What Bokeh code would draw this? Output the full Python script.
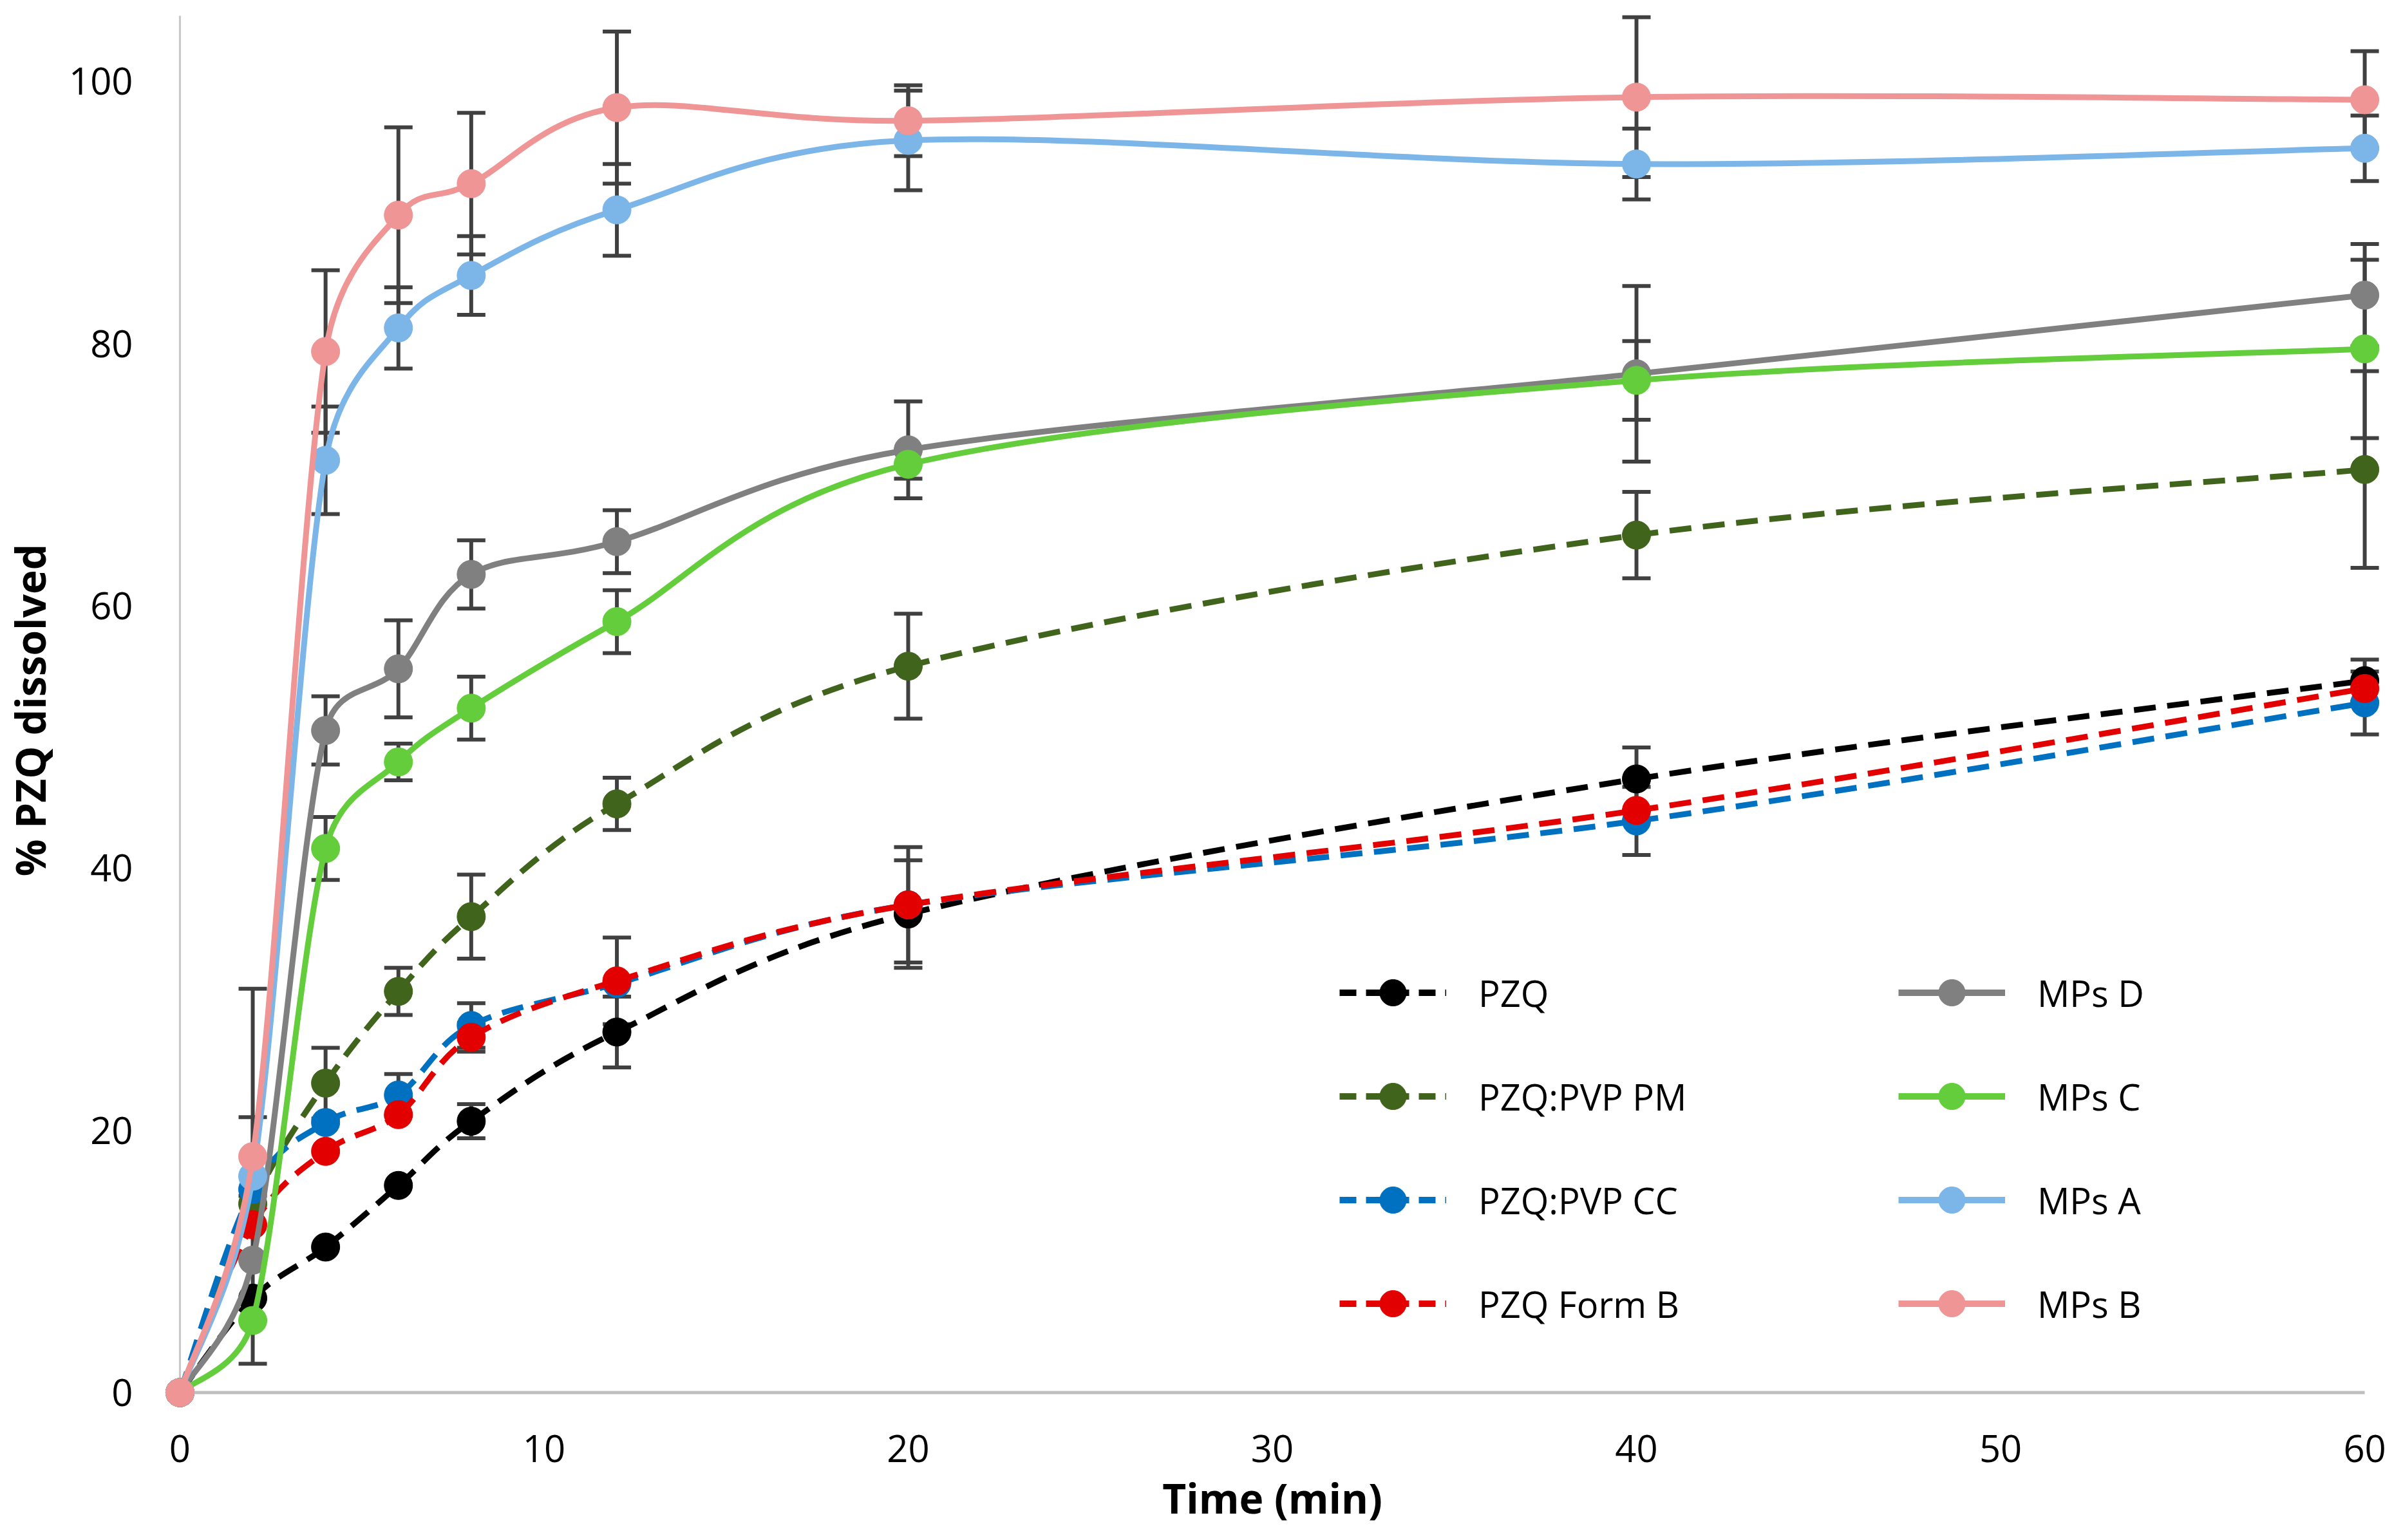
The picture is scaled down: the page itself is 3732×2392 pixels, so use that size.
import numpy as np
from bokeh.plotting import figure
from bokeh.models import ColumnDataSource, Whisker, TeeHead, Legend, LegendItem, FixedTicker
from bokeh.embed import file_html
from bokeh.resources import INLINE

# sampling times (min)
TIME = [0, 2, 4, 6, 8, 12, 20, 40, 60]

# % PZQ dissolved, with error bar half-widths (0 = no bar shown)
PZQ = [0, 7.2, 11.1, 15.8, 20.7, 27.5, 36.5, 46.8, 54.3]
PZQ_ERR = [0, 0, 0, 0, 1.3, 2.7, 4.1, 2.4, 1.6]

PVP_PM = [0, 14.4, 23.6, 30.6, 36.3, 44.9, 55.4, 65.4, 70.4]
PVP_PM_ERR = [0, 0, 2.7, 1.8, 3.2, 2.0, 4.0, 3.3, 7.5]

PVP_CC = [0, 15.5, 20.6, 22.7, 28.0, 31.2, 37.2, 43.6, 52.6]
PVP_CC_ERR = [0, 0, 0, 1.6, 1.7, 0, 4.4, 2.6, 2.4]

FORM_B = [0, 12.8, 18.4, 21.2, 27.1, 31.4, 37.2, 44.4, 53.7]
FORM_B_ERR = [0, 0, 0, 0, 1.1, 3.3, 0, 0, 0]

MPS_D = [0, 10.1, 50.5, 55.2, 62.4, 64.9, 71.9, 77.7, 83.7]
MPS_D_ERR = [0, 0, 2.6, 3.7, 2.6, 2.4, 3.7, 6.7, 3.9]

MPS_C = [0, 5.5, 41.5, 48.1, 52.2, 58.8, 70.8, 77.2, 79.6]
MPS_C_ERR = [0, 0, 2.4, 1.4, 2.4, 2.4, 1.1, 3.0, 6.8]

MPS_A = [0, 16.5, 71.1, 81.2, 85.2, 90.2, 95.5, 93.7, 94.9]
MPS_A_ERR = [0, 14.3, 4.1, 3.1, 3.0, 3.5, 3.8, 2.7, 2.5]

MPS_B = [0, 18.0, 79.4, 89.8, 92.2, 98.0, 97.0, 98.8, 98.6]
MPS_B_ERR = [0, 3.0, 6.2, 6.7, 5.4, 5.8, 2.7, 6.1, 3.7]

X_TICKS = [0, 10, 20, 30, 40, 50, 60]
Y_TICKS = [0, 20, 40, 60, 80, 100]
X_MAX = 60
Y_MAX = 105

# name, values, errors, colour, dashed
SERIES = [
    ("PZQ", PZQ, PZQ_ERR, "#000000", True),
    ("PZQ:PVP PM", PVP_PM, PVP_PM_ERR, "#41641C", True),
    ("PZQ:PVP CC", PVP_CC, PVP_CC_ERR, "#0070C0", True),
    ("PZQ Form B", FORM_B, FORM_B_ERR, "#E30000", True),
    ("MPs D", MPS_D, MPS_D_ERR, "#808080", False),
    ("MPs C", MPS_C, MPS_C_ERR, "#63CD3C", False),
    ("MPs A", MPS_A, MPS_A_ERR, "#7CB5E8", False),
    ("MPs B", MPS_B, MPS_B_ERR, "#EF9595", False),
]

FONT = "Open Sans"
DASH = "34 18"
KEY_DASH = "26 15"

W, H = 3716, 2376
X_RANGE = (-0.6, 60.6)
Y_RANGE = (-1.2, 105.3)
BORDER = dict(left=228, right=10, top=18, bottom=189)
# pixels per data unit, used only so the curve smoothing behaves as it would on screen
SX = (W - BORDER["left"] - BORDER["right"]) / (X_RANGE[1] - X_RANGE[0])
SY = (H - BORDER["top"] - BORDER["bottom"]) / (Y_RANGE[1] - Y_RANGE[0])


def smooth_segments(xs, ys):
    # Excel-like smoothed line: one cubic bezier per interval, Catmull-Rom tangents
    # (1/6), with each handle kept within half of its own interval
    pts = np.column_stack([np.asarray(xs, float) * SX, np.asarray(ys, float) * SY])
    n = len(pts)
    d = dict(x0=[], y0=[], x1=[], y1=[], cx0=[], cy0=[], cx1=[], cy1=[])

    def handle(i, j):
        # handle at point i pointing towards neighbour j
        prev = pts[max(i - 1, 0)]
        nxt = pts[min(i + 1, n - 1)]
        t = (nxt - prev) / 6.0
        seg = np.linalg.norm(pts[j] - pts[i])
        tl = np.linalg.norm(t)
        if tl > 0.5 * seg and tl > 0:
            t = t * (0.5 * seg / tl)
        return pts[i] + t if j > i else pts[i] - t

    for i in range(n - 1):
        c0 = handle(i, i + 1)
        c1 = handle(i + 1, i)
        d["x0"].append(pts[i][0] / SX); d["y0"].append(pts[i][1] / SY)
        d["x1"].append(pts[i + 1][0] / SX); d["y1"].append(pts[i + 1][1] / SY)
        d["cx0"].append(c0[0] / SX); d["cy0"].append(c0[1] / SY)
        d["cx1"].append(c1[0] / SX); d["cy1"].append(c1[1] / SY)
    return d


p = figure(
    width=W, height=H,
    x_range=X_RANGE, y_range=Y_RANGE,
    min_border_left=BORDER["left"], min_border_right=BORDER["right"],
    min_border_top=BORDER["top"], min_border_bottom=BORDER["bottom"],
    toolbar_location=None, output_backend="svg",
)
p.outline_line_color = None
p.xgrid.visible = False
p.ygrid.visible = False

for ax in (p.xaxis[0], p.yaxis[0]):
    ax.axis_line_color = None
    ax.major_tick_line_color = None
    ax.minor_tick_line_color = None
    ax.major_label_text_font = FONT
    ax.major_label_text_font_size = "58px"
    ax.major_label_text_color = "#000000"
    ax.axis_label_text_font = FONT
    ax.axis_label_text_font_size = "64px"
    ax.axis_label_text_font_style = "bold"
    ax.axis_label_text_color = "#000000"

p.xaxis.ticker = FixedTicker(ticks=X_TICKS)
p.yaxis.ticker = FixedTicker(ticks=Y_TICKS)
p.xaxis.axis_label = "Time (min)"
p.yaxis.axis_label = "% PZQ dissolved"
p.xaxis.major_label_standoff = 35
p.yaxis.major_label_standoff = 33
p.xaxis.axis_label_standoff = 9
p.yaxis.axis_label_standoff = 14

# axis lines drawn only over the value range, like the original
p.segment(x0=[0], y0=[0], x1=[X_MAX], y1=[0], line_color="#BFBFBF", line_width=5)
p.segment(x0=[0], y0=[0], x1=[0], y1=[Y_MAX], line_color="#C8C8C8", line_width=3)

legend_items = []
for name, vals, errs, color, dashed in SERIES:
    dash = DASH if dashed else "solid"
    p.bezier(x0="x0", y0="y0", x1="x1", y1="y1", cx0="cx0", cy0="cy0", cx1="cx1", cy1="cy1",
             source=ColumnDataSource(smooth_segments(TIME, vals)),
             line_color=color, line_width=9, line_dash=dash)

    eb = [(t, v, e) for t, v, e in zip(TIME, vals, errs) if e > 0]
    if eb:
        esrc = ColumnDataSource(data=dict(
            x=[t for t, v, e in eb],
            upper=[v + e for t, v, e in eb],
            lower=[v - e for t, v, e in eb],
        ))
        w = Whisker(source=esrc, base="x", upper="upper", lower="lower", dimension="height",
                    line_color="#404040", line_width=6, level="underlay",
                    upper_head=TeeHead(size=44, line_color="#404040", line_width=6),
                    lower_head=TeeHead(size=44, line_color="#404040", line_width=6))
        p.add_layout(w)

    dots = p.scatter(TIME, vals, marker="circle", size=44, fill_color=color, line_color=color)
    # one-point line: draws nothing in the plot, only supplies the legend's line key
    key = p.line(x=TIME[:1], y=vals[:1], line_color=color, line_width=10,
                 line_dash=KEY_DASH if dashed else "solid")
    legend_items.append(LegendItem(label=name, renderers=[key, dots]))

for col, xoff in ((0, 1835), (1, 2703)):
    leg = Legend(items=legend_items[col * 4:(col + 1) * 4], location=(xoff, 111),
                 orientation="vertical")
    leg.glyph_width = 166
    leg.glyph_height = 103
    leg.label_height = 103
    leg.spacing = 58
    leg.padding = 0
    leg.margin = 0
    leg.label_standoff = 50
    leg.label_text_font = FONT
    leg.label_text_font_size = "56px"
    leg.label_text_color = "#000000"
    leg.border_line_color = None
    leg.background_fill_alpha = 0
    p.add_layout(leg, "center")

open("out.html", "w").write(file_html(p, INLINE))
